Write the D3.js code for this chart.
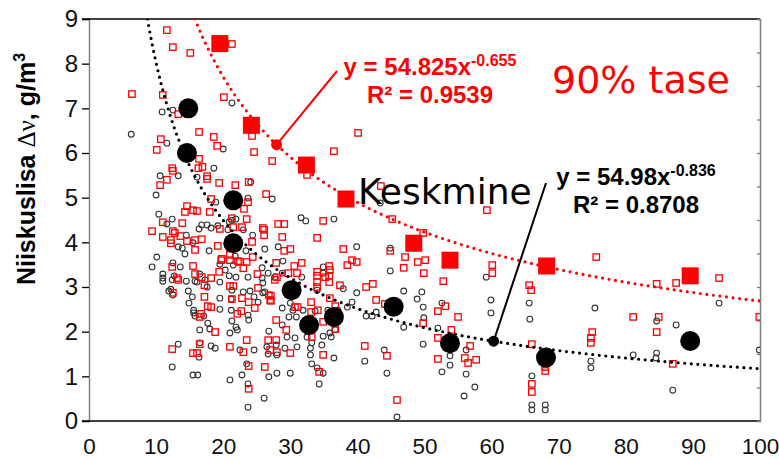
<!DOCTYPE html>
<html>
<head>
<meta charset="utf-8">
<script src="https://cdn.jsdelivr.net/npm/d3@7"></script>
<style>
  html, body { margin: 0; padding: 0; background: #fff; }
  svg { display: block; }
</style>
</head>
<body>
<svg id="chart" width="779" height="460"></svg>
<script>
// Individual measurements: open circles (all samples)
const allX = [6.3,10.9,12.5,21.3,11.6,20.0,10.6,13.3,16.1,18.6,24.1,10.0,18.9,23.7,10.4,12.4,11.6,21.9,16.8,17.6,18.2,16.4,19.2,20.9,27.3,43.4,31.6,32.3,36.5,
  14.5,17.9,13.3,13.9,14.3,10.1,9.4,12.5,13.6,11.0,12.7,15.5,19.5,16.5,21.3,20.7,23.0,24.4,26.2,28.2,23.4,21.5,20.3,20.9,21.9,23.7,25.8,26.7,28.8,31.7,34.9,
  11.0,11.9,12.5,14.8,14.9,15.6,15.8,16.5,13.3,12.4,15.5,16.2,16.5,16.4,18.2,18.8,17.3,17.6,19.5,19.5,21.3,21.2,21.2,21.3,21.9,22.1,21.0,21.0,22.8,23.7,23.7,23.5,22.5,24.6,23.8,23.7,23.0,24.0,
  21.8,16.1,11.0,12.4,14.5,15.8,12.2,15.4,15.6,17.1,17.7,18.0,19.5,24.6,25.2,26.1,26.8,27.9,26.7,28.0,29.2,31.0,28.8,29.5,30.7,29.8,30.9,28.8,30.0,25.8,26.2,27.7,
  33.0,33.0,33.2,34.0,34.9,34.3,30.0,28.0,26.8,33.2,34.7,36.5,33.7,35.9,36.7,28.9,25.9,25.9,30.4,31.9,34.9,34.0,35.6,37.1,37.9,39.2,38.5,39.9,39.9,41.3,42.2,42.8,
  44.9,44.9,46.9,48.9,49.6,49.8,49.9,46.9,49.8,52.6,52.0,52.6,53.8,53.8,56.2,55.9,57.5,56.2,45.9,44.4,41.1,44.0,26.5,32.5,36.1,34.9,59.9,59.9,59.2,
  65.6,65.7,75.4,84.6,87.5,93.9,99.9,84.6,84.5,81.1,74.8,74.8,66.0,66.0,66.0,68.0,68.0,87.0];
const allY = [6.42,6.92,6.96,7.12,6.22,6.09,5.49,5.49,5.46,5.66,5.35,5.06,4.90,4.99,4.63,4.52,4.41,4.52,4.39,4.39,4.32,4.30,4.37,4.46,4.97,4.88,4.55,4.48,4.52,
  4.16,3.81,3.90,3.87,3.74,3.67,3.45,3.54,3.45,3.29,3.25,3.99,3.51,3.29,4.49,4.28,4.28,4.16,3.85,3.90,3.81,3.49,3.38,3.25,3.22,3.22,3.43,3.31,3.31,3.22,3.45,
  3.13,2.91,2.82,2.91,2.64,2.48,2.35,2.04,1.72,1.21,1.03,1.03,1.75,1.43,1.68,1.63,3.16,3.00,2.75,2.50,2.93,2.73,2.48,2.24,2.10,2.04,1.97,0.92,1.03,0.31,0.83,1.28,1.59,1.59,2.26,2.37,2.89,2.91,
  3.69,3.11,3.20,3.16,3.13,3.13,2.95,2.78,2.42,2.35,2.19,2.06,3.11,2.78,2.66,0.51,2.01,1.70,1.50,1.48,1.63,1.66,2.15,1.88,1.86,2.33,2.33,2.53,2.64,3.20,2.89,3.22,
  1.63,1.48,1.28,1.19,1.07,0.83,1.07,1.07,0.99,1.75,1.70,1.41,2.46,1.97,2.04,3.58,3.09,2.87,2.48,2.48,3.31,2.93,2.48,2.48,2.96,2.66,2.55,2.87,3.90,2.35,2.35,2.44,
  3.87,3.36,2.91,2.73,2.89,2.55,2.31,2.10,1.72,2.64,2.08,1.10,1.46,1.25,1.05,0.56,0.76,1.59,0.09,1.07,1.34,1.59,1.66,1.88,1.88,1.90,2.71,2.42,3.22,
  2.64,2.28,2.53,2.24,2.15,2.64,1.59,1.52,1.41,1.48,1.34,1.19,1.01,0.36,0.25,0.36,0.25,0.69];

// Samples above the 90% level: open squares
const highX = [11.6,12.5,15.1,21.3,6.4,11.0,20.1,13.3,16.4,10.7,18.6,19.1,24.3,24.6,10.1,16.4,12.4,12.5,16.3,16.9,17.6,17.6,19.4,21.8,23.8,11.6,10.6,18.2,23.7,23.1,14.6,14.3,15.5,16.1,18.0,13.9,11.0,23.5,9.4,12.5,12.8,19.5,21.5,22.8,
  11.0,12.2,12.2,13.6,14.6,15.8,16.8,19.2,15.8,12.4,15.5,15.8,18.2,19.4,13.1,
  21.0,21.0,22.5,23.5,23.0,24.4,24.3,19.7,17.2,21.0,21.5,25.1,12.5,17.2,21.3,22.8,23.8,17.7,18.2,16.7,16.5,22.7,22.1,24.7,18.8,12.4,15.5,16.1,16.5,21.0,23.0,23.5,23.8,23.8,13.3,16.8,
  27.3,36.5,32.5,26.4,21.3,28.2,29.1,26.1,26.1,28.8,34.9,34.0,30.0,29.1,19.8,22.2,28.0,29.7,30.6,31.7,31.0,34.0,35.8,35.8,34.0,
  40.1,43.5,59.3,45.2,25.9,27.9,35.2,35.9,35.8,34.0,34.0,27.7,26.8,27.0,30.7,31.1,33.1,33.1,34.1,37.4,38.5,39.2,39.9,37.9,41.3,42.3,42.8,44.1,35.9,36.7,
  27.9,29.4,27.9,26.7,27.0,28.0,30.0,26.2,34.9,34.3,41.1,44.4,45.9,44.9,47.1,46.9,49.0,50.1,49.9,52.8,52.0,53.1,55.0,54.0,52.0,52.0,56.0,57.7,56.5,56.8,49.8,60.1,60.1,49.8,32.5,33.2,36.7,
  25.2,27.1,27.1,33.0,34.9,
  75.6,65.6,65.9,84.6,87.5,93.9,81.1,84.9,84.6,99.9,75.0,74.8,74.8,66.0,68.0,68.0,66.0,66.0,87.0];
const highY = [8.75,8.37,8.24,8.44,7.32,7.30,7.25,6.87,6.47,6.31,6.36,6.16,6.38,6.02,6.07,5.87,5.66,5.60,5.66,5.69,5.48,5.42,5.33,5.28,5.35,5.40,5.28,4.97,4.90,4.75,4.81,4.68,4.72,4.70,4.68,4.43,4.45,4.52,4.25,4.25,4.21,4.30,4.34,4.34,
  4.12,4.05,3.98,4.14,4.03,4.05,4.07,3.92,3.83,3.45,3.47,3.29,3.20,3.34,3.20,
  3.72,3.60,3.56,3.56,3.42,3.67,4.01,3.60,3.04,3.02,3.02,3.29,2.87,2.78,2.73,2.75,2.66,2.57,2.55,2.40,2.33,2.46,2.40,2.53,1.99,1.61,1.52,1.52,1.72,1.66,1.54,1.81,1.23,0.72,3.16,3.22,
  5.82,6.04,5.51,5.08,4.54,4.41,4.41,4.28,4.16,4.12,4.48,4.10,3.85,3.81,3.63,3.58,3.22,3.31,3.47,3.54,3.31,3.34,3.47,3.25,3.25,
  6.45,5.26,4.72,4.52,4.32,3.54,3.22,3.38,3.11,3.11,3.00,3.16,2.82,2.71,2.55,2.55,2.66,2.44,2.48,3.04,3.49,3.60,3.56,3.85,3.00,3.07,2.71,2.62,2.75,2.57,
  2.26,2.04,1.81,1.81,1.59,1.54,1.52,1.21,1.48,1.10,1.68,1.46,0.47,3.81,3.67,3.43,3.56,3.60,3.31,3.13,2.46,2.57,2.33,2.04,1.86,1.39,1.41,1.37,1.30,1.68,2.19,3.49,3.31,4.21,2.19,1.88,2.06,
  2.98,2.80,2.69,2.08,2.22,
  3.67,3.04,2.93,3.07,3.09,3.20,2.33,2.33,1.99,2.33,1.99,1.86,1.75,1.72,1.21,1.12,0.83,0.65,1.28];

// Class medians (filled circles) and class 90% values (filled squares)
const medianX = [14.8,14.6,21.5,21.5,30.2,32.8,36.5,45.4,53.8,68.1,89.6];
const medianY = [7.00,6.00,4.94,3.98,2.93,2.15,2.33,2.56,1.74,1.42,1.79];
const p90X = [19.5,24.2,32.4,38.3,48.4,53.8,68.2,89.6];
const p90Y = [8.45,6.62,5.73,4.97,3.98,3.60,3.47,3.25];

// Power-law fits y = a * x^b
const fitRed = [54.825, -0.655];
const fitBlack = [54.98, -0.836];
const fitRedR2 = "0.9539";
const fitBlackR2 = "0.8708";
// x positions where the equation call-outs meet the curves
const calloutX = [27.96, 60.3];

const xTicks = [0,10,20,30,40,50,60,70,80,90,100];
const yTicks = [0,1,2,3,4,5,6,7,8,9];

const svg = d3.select("#chart");
const x = d3.scaleLinear().domain([0, 100]).range([89, 760]);
const y = d3.scaleLinear().domain([0, 9]).range([421, 19]);
const y2 = d3.scaleLinear().domain([0, 12]).range([421, 19]);

const SANS = "'Liberation Sans', Arial, sans-serif";
const VERD = "'DejaVu Sans', Verdana, sans-serif";
const RED = "#ff0000";

svg.append("defs").append("clipPath").attr("id", "plot")
  .append("rect").attr("x", 89).attr("y", 19).attr("width", 671).attr("height", 402);

// Axes
const yAxis = svg.append("g").attr("transform", "translate(89,0)")
  .call(d3.axisLeft(y).tickValues(yTicks).tickSize(7).tickPadding(4).tickFormat(d3.format("d")));
yAxis.select(".domain").attr("stroke", "#808080").attr("stroke-width", 1.5);
yAxis.selectAll(".tick line").attr("stroke", "#000").attr("stroke-width", 1.3);
yAxis.selectAll(".tick text").attr("font-family", SANS).attr("font-size", 24).attr("fill", "#111");

const xAxis = svg.append("g").attr("transform", "translate(0,421)")
  .call(d3.axisBottom(x).tickValues(xTicks).tickSize(0).tickPadding(17).tickFormat(d3.format("d")));
xAxis.select(".domain").remove();
xAxis.selectAll(".tick text").attr("font-family", SANS).attr("font-size", 22.5).attr("fill", "#111");

// Frame: black top and bottom rules, grey right axis with inward ticks
svg.append("line").attr("x1", 82).attr("x2", 760).attr("y1", y(9)).attr("y2", y(9))
  .attr("stroke", "#000").attr("stroke-width", 1.3);
svg.append("line").attr("x1", 82).attr("x2", 760).attr("y1", y(0)).attr("y2", y(0))
  .attr("stroke", "#000").attr("stroke-width", 1.5);
const rAxis = svg.append("g").attr("transform", "translate(760,0)")
  .call(d3.axisLeft(y2).ticks(12).tickSize(3).tickFormat(""));
rAxis.select(".domain").attr("stroke", "#808080").attr("stroke-width", 1.5);
rAxis.selectAll(".tick line").attr("stroke", "#808080").attr("stroke-width", 1.3);

const plot = svg.append("g").attr("clip-path", "url(#plot)");

// Scatter
plot.append("g").selectAll("circle").data(d3.range(allX.length)).join("circle")
  .attr("cx", i => x(allX[i])).attr("cy", i => y(allY[i])).attr("r", 2.9)
  .attr("fill", "none").attr("stroke", "#333").attr("stroke-width", 1.1);

const s = 6.4;
plot.append("g").selectAll("rect").data(d3.range(highX.length)).join("rect")
  .attr("x", i => x(highX[i]) - s / 2).attr("y", i => y(highY[i]) - s / 2)
  .attr("width", s).attr("height", s)
  .attr("fill", "none").attr("stroke", RED).attr("stroke-width", 1.3);

// Dotted power-law trend lines
function fitPoints(f) {
  const x0 = Math.pow(9 / f[0], 1 / f[1]);
  return d3.range(x0, 100.001, 0.2).concat([100]).map(v => [v, f[0] * Math.pow(v, f[1])]);
}
const line = d3.line().x(d => x(d[0])).y(d => y(d[1])).curve(d3.curveLinear);
[[fitRed, RED], [fitBlack, "#000"]].forEach(([f, c]) => {
  plot.append("path").attr("d", line(fitPoints(f)))
    .attr("fill", "none").attr("stroke", c).attr("stroke-width", 3.2)
    .attr("stroke-linecap", "round").attr("stroke-dasharray", "0,6.6");
});

// Medians and 90% values
svg.append("g").selectAll("circle").data(d3.range(medianX.length)).join("circle")
  .attr("cx", i => x(medianX[i])).attr("cy", i => y(medianY[i])).attr("r", 10)
  .attr("fill", "#000");
const S = 17;
svg.append("g").selectAll("rect").data(d3.range(p90X.length)).join("rect")
  .attr("x", i => x(p90X[i]) - S / 2).attr("y", i => y(p90Y[i]) - S / 2)
  .attr("width", S).attr("height", S).attr("fill", RED);

// Equation call-outs
function callout(f, cx, color, tx, ty) {
  const px = x(cx), py = y(f[0] * Math.pow(cx, f[1]));
  svg.append("line").attr("x1", px).attr("y1", py).attr("x2", tx).attr("y2", ty)
    .attr("stroke", color).attr("stroke-width", 2);
  svg.append("circle").attr("cx", px).attr("cy", py).attr("r", 5.5).attr("fill", color);
}
callout(fitRed, calloutX[0], RED, 337, 71);
callout(fitBlack, calloutX[1], "#000", 546, 183);

function equation(f, r2, color, cx, by) {
  const t = svg.append("text").attr("x", cx).attr("y", by).attr("text-anchor", "middle")
    .attr("font-family", SANS).attr("font-weight", "bold").attr("font-size", 24).attr("fill", color);
  t.append("tspan").text("y = " + f[0] + "x");
  t.append("tspan").attr("font-size", 16).attr("dy", -9).text(f[1]);
  svg.append("text").attr("x", cx).attr("y", by + 28).attr("text-anchor", "middle")
    .attr("font-family", SANS).attr("font-weight", "bold").attr("font-size", 24).attr("fill", color)
    .text("R² = " + r2);
}
equation(fitRed, fitRedR2, RED, 430, 75);
equation(fitBlack, fitBlackR2, "#000", 636, 185);

svg.append("text").attr("x", 552).attr("y", 93).attr("font-family", VERD).attr("font-size", 38)
  .attr("fill", RED).text("90% tase");
svg.append("text").attr("x", 358).attr("y", 204).attr("font-family", VERD).attr("font-size", 36)
  .attr("fill", "#000").text("Keskmine");

// Y-axis title
const yt = svg.append("text").attr("transform", "translate(35,169) rotate(-90)")
  .attr("text-anchor", "middle").attr("font-family", SANS).attr("font-size", 25)
  .attr("font-weight", "bold").attr("fill", "#000");
yt.append("tspan").text("Niiskuslisa ");
yt.append("tspan").attr("font-family", "'Liberation Serif', 'DejaVu Serif', serif").attr("font-weight", "normal").text("Δν");
yt.append("tspan").text(", g/m");
yt.append("tspan").attr("font-size", 16).attr("dy", -10).text("3");
</script>
</body>
</html>
